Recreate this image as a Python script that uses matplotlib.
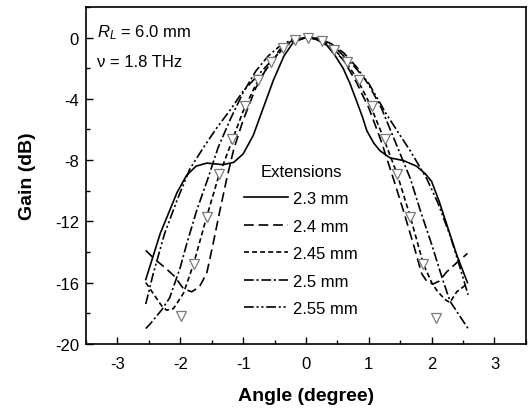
import matplotlib
matplotlib.use("Agg")
import matplotlib.pyplot as plt

plt.rcParams["font.family"] = ["Liberation Sans", "DejaVu Sans"]
plt.rcParams["mathtext.fontset"] = "custom"
plt.rcParams["mathtext.rm"] = "Liberation Sans"
plt.rcParams["mathtext.it"] = "Liberation Sans:italic"
plt.rcParams["lines.scale_dashes"] = False
plt.rcParams["axes.unicode_minus"] = False

# simulated patterns (angle in degree, gain in dB)
x_23 = [-2.55, -2.45, -2.32, -2.2, -2.05, -1.9, -1.75, -1.58, -1.32, -1.15, -1.0,
        -0.84, -0.68, -0.52, -0.35, -0.2, 0.0, 0.15, 0.33, 0.45, 0.59, 0.7, 0.81,
        0.9, 0.97, 1.08, 1.18, 1.34, 1.55, 1.76, 1.9, 2.0, 2.12, 2.24, 2.4, 2.57]
g_23 = [-15.8, -14.5, -12.8, -11.6, -10.1, -9.0, -8.4, -8.2, -8.3, -8.15, -7.6,
        -6.4, -4.6, -2.8, -1.2, -0.3, 0.0, -0.1, -0.5, -1.1, -2.0, -3.0, -4.2,
        -5.2, -6.1, -6.9, -7.4, -7.86, -8.03, -8.4, -8.9, -9.4, -10.7, -12.2, -14.2, -16.0]

x_24 = [-2.55, -2.4, -2.25, -2.09, -1.95, -1.82, -1.7, -1.58, -1.48, -1.37, -1.26,
        -1.15, -1.0, -0.8, -0.6, -0.4, -0.2, 0.0, 0.2, 0.4, 0.6, 0.8, 1.0, 1.2,
        1.39, 1.55, 1.71, 1.84, 1.92, 2.02, 2.12, 2.24, 2.4, 2.57]
g_24 = [-13.9, -14.5, -15.0, -15.6, -16.4, -16.6, -16.3, -15.4, -13.5, -11.3, -9.2,
        -7.3, -5.4, -3.3, -1.8, -0.7, -0.15, 0.0, -0.1, -0.6, -1.5, -2.9, -4.6, -6.8,
        -9.2, -11.3, -13.5, -15.4, -15.9, -16.1, -15.9, -15.3, -14.7, -14.1]

x_245 = [-2.55, -2.4, -2.3, -2.22, -2.11, -1.95, -1.79, -1.58, -1.4, -1.2, -1.0,
         -0.8, -0.6, -0.4, -0.2, 0.0, 0.2, 0.4, 0.6, 0.8, 1.0, 1.2, 1.45, 1.66,
         1.87, 2.0, 2.08, 2.21, 2.29, 2.4, 2.56]
g_245 = [-16.0, -16.9, -17.5, -17.8, -17.7, -16.7, -14.8, -11.7, -9.2, -7.0, -4.8,
         -3.1, -1.9, -0.8, -0.2, 0.0, -0.1, -0.6, -1.4, -2.6, -4.2, -6.2, -8.9, -11.7,
         -14.8, -16.0, -16.5, -17.1, -17.3, -16.6, -16.1]

x_25 = [-2.55, -2.48, -2.3, -2.17, -2.0, -1.9, -1.74, -1.56, -1.4, -1.2, -1.0,
        -0.8, -0.6, -0.4, -0.2, 0.0, 0.2, 0.4, 0.6, 0.8, 1.0, 1.2, 1.4, 1.66,
        1.82, 2.0, 2.16, 2.29, 2.45, 2.58]
g_25 = [-19.0, -18.7, -17.8, -17.0, -15.0, -13.5, -11.3, -9.2, -7.2, -5.3, -3.6,
        -2.2, -1.2, -0.5, -0.1, 0.0, -0.05, -0.4, -1.0, -1.9, -3.1, -4.6, -6.6, -9.2,
        -11.3, -13.5, -15.6, -17.2, -18.2, -19.0]

x_255 = [-2.55, -2.43, -2.25, -2.05, -1.85, -1.65, -1.42, -1.2, -1.0, -0.75, -0.5,
         -0.25, 0.0, 0.25, 0.5, 0.75, 1.0, 1.28, 1.5, 1.66, 1.92, 2.1, 2.3, 2.45, 2.58]
g_255 = [-17.4, -15.4, -12.8, -10.6, -8.6, -7.3, -5.9, -4.7, -3.5, -2.4, -1.3,
         -0.3, 0.0, -0.2, -0.8, -1.8, -3.0, -5.0, -6.4, -7.4, -9.2, -10.8, -13.0, -15.0, -16.8]

# measured points
x_meas = [-1.99, -1.78, -1.58, -1.39, -1.17, -0.97, -0.76, -0.55, -0.36, -0.18, 0.03,
          0.25, 0.45, 0.65, 0.85, 1.05, 1.26, 1.45, 1.66, 1.87, 2.07]
g_meas = [-18.2, -14.8, -11.75, -8.9, -6.6, -4.5, -2.8, -1.6, -0.7, -0.17, 0.0,
          -0.2, -0.8, -1.6, -2.8, -4.5, -6.6, -8.9, -11.7, -14.8, -18.3]

labels = ["2.3 mm", "2.4 mm", "2.45 mm", "2.5 mm", "2.55 mm"]
styles = ["-", (0, (7, 3.5)), (0, (3.6, 2.2)), (0, (7, 2, 1.5, 2)),
          (0, (7, 2, 1.5, 2, 1.5, 2))]


def main():
    fig = plt.figure(figsize=(5.28, 4.14), dpi=100)
    ax = fig.add_axes([0.163, 0.167, 0.833, 0.814])

    curves = [(x_23, g_23), (x_24, g_24), (x_245, g_245), (x_25, g_25), (x_255, g_255)]
    for (xs, gs), lab, ls in zip(curves, labels, styles):
        ax.plot(xs, gs, color="black", lw=1.2, linestyle=ls, label=lab)

    ax.plot(x_meas, g_meas, linestyle="none", marker="v", markersize=6.5,
            markerfacecolor="white", markeredgecolor="#7a7a7a", markeredgewidth=0.9)

    ax.set_xlim(-3.5, 3.5)
    ax.set_ylim(-20, 2)
    ax.set_xticks([-3, -2, -1, 0, 1, 2, 3])
    ax.set_xticks([-3.5 + 0.5 * i for i in range(15)], minor=True)
    ax.set_yticks([0, -4, -8, -12, -16, -20])
    ax.set_yticks(list(range(-20, 3, 2)), minor=True)
    ax.tick_params(which="both", direction="in", labelsize=12, width=1.0)
    ax.tick_params(which="major", length=5)
    ax.tick_params(which="minor", length=3)
    ax.tick_params(axis="x", pad=9)
    ax.tick_params(axis="y", pad=5)
    for sp in ax.spines.values():
        sp.set_linewidth(1.2)

    ax.set_xlabel("Angle (degree)", fontsize=14, fontweight="bold", labelpad=11)
    ax.set_ylabel("Gain (dB)", fontsize=14, fontweight="bold", labelpad=14)

    ax.text(-3.33, 0.4, r"$R_L$ = 6.0 mm", fontsize=12, va="center")
    ax.text(-3.33, -1.55, "\u03bd = 1.8 THz", fontsize=12, va="center")

    leg = ax.legend(title="Extensions", frameon=False, fontsize=12,
                    title_fontsize=12, handlelength=2.6, handletextpad=0.3,
                    labelspacing=0.75, loc="upper left",
                    bbox_to_anchor=(0.36, 0.535), borderaxespad=0,
                    borderpad=0)
    leg._legend_box.align = "center"

    fig.savefig("out.png", dpi=100)
    plt.close(fig)


if __name__ == "__main__":
    main()
